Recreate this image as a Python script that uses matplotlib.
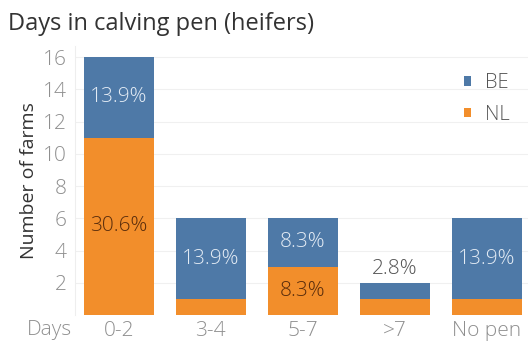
import matplotlib.pyplot as plt

categories = ['0-2', '3-4', '5-7', '>7', 'No pen']
nl_farms = [11, 1, 3, 1, 1]
be_farms = [5, 5, 3, 1, 5]
farms_per_country = 36

# which segments carry a percentage label
be_labelled = [True, True, True, True, True]
nl_labelled = [True, False, True, False, False]

blue = '#4e79a7'
orange = '#f28e2b'

plt.rcParams['font.family'] = ['Open Sans', 'DejaVu Sans']
plt.rcParams['font.weight'] = 'light'

fig = plt.figure(figsize=(5.28, 3.45), dpi=100)
ax = fig.add_axes([0.142, 0.087, 0.858, 0.78])

x = range(len(categories))
width = 0.76

ax.bar(x, nl_farms, width, color=orange, label='NL', zorder=2)
ax.bar(x, be_farms, width, bottom=nl_farms, color=blue, label='BE', zorder=2)

for i in x:
    nl = nl_farms[i]
    be = be_farms[i]
    if nl_labelled[i]:
        ax.text(i, nl / 2, f'{nl / farms_per_country * 100:.1f}%',
                ha='center', va='center', fontsize=15, color='#5a2d0c', zorder=3)
    if be_labelled[i]:
        pct = f'{be / farms_per_country * 100:.1f}%'
        if be + nl > 3:
            ax.text(i, nl + be / 2, pct, ha='center', va='center',
                    fontsize=15, color='#e4ecf5', zorder=3)
        else:
            # small bar, put the label above it
            ax.text(i, nl + be + 0.25, pct, ha='center', va='bottom',
                    fontsize=15, color='#555555', zorder=3)

ax.set_xlim(-0.478, 4.45)
ax.set_ylim(0, 16.7)
ax.set_yticks(range(2, 17, 2))
ax.set_xticks(list(x))
ax.set_xticklabels(categories)
ax.tick_params(axis='both', length=0, labelsize=15, colors='#8f8f8f', pad=4)
ax.tick_params(axis='y', pad=6)
ax.grid(axis='y', color='#f0f0f0', linewidth=0.8, zorder=0)

for side in ['top', 'right', 'bottom']:
    ax.spines[side].set_visible(False)
ax.spines['left'].set_color('#eeeeee')

ax.set_ylabel('Number of farms', fontsize=14, color='#333333', labelpad=3,
              fontweight='normal')
fig.text(0.137, 0.044, 'Days', ha='right', va='center', fontsize=15, color='#8f8f8f')
fig.text(0.015, 0.93, 'Days in calving pen (heifers)', ha='left', va='center',
         fontsize=17, color='#333333', fontweight='normal')

handles, labels = ax.get_legend_handles_labels()
leg = ax.legend(handles[::-1], labels[::-1], loc='upper right', bbox_to_anchor=(1.0, 0.965),
                frameon=False, fontsize=14.5, handlelength=0.35, handleheight=0.35,
                handletextpad=0.7, labelspacing=0.55)
for t in leg.get_texts():
    t.set_color('#555555')

fig.savefig('out.png', dpi=100)
